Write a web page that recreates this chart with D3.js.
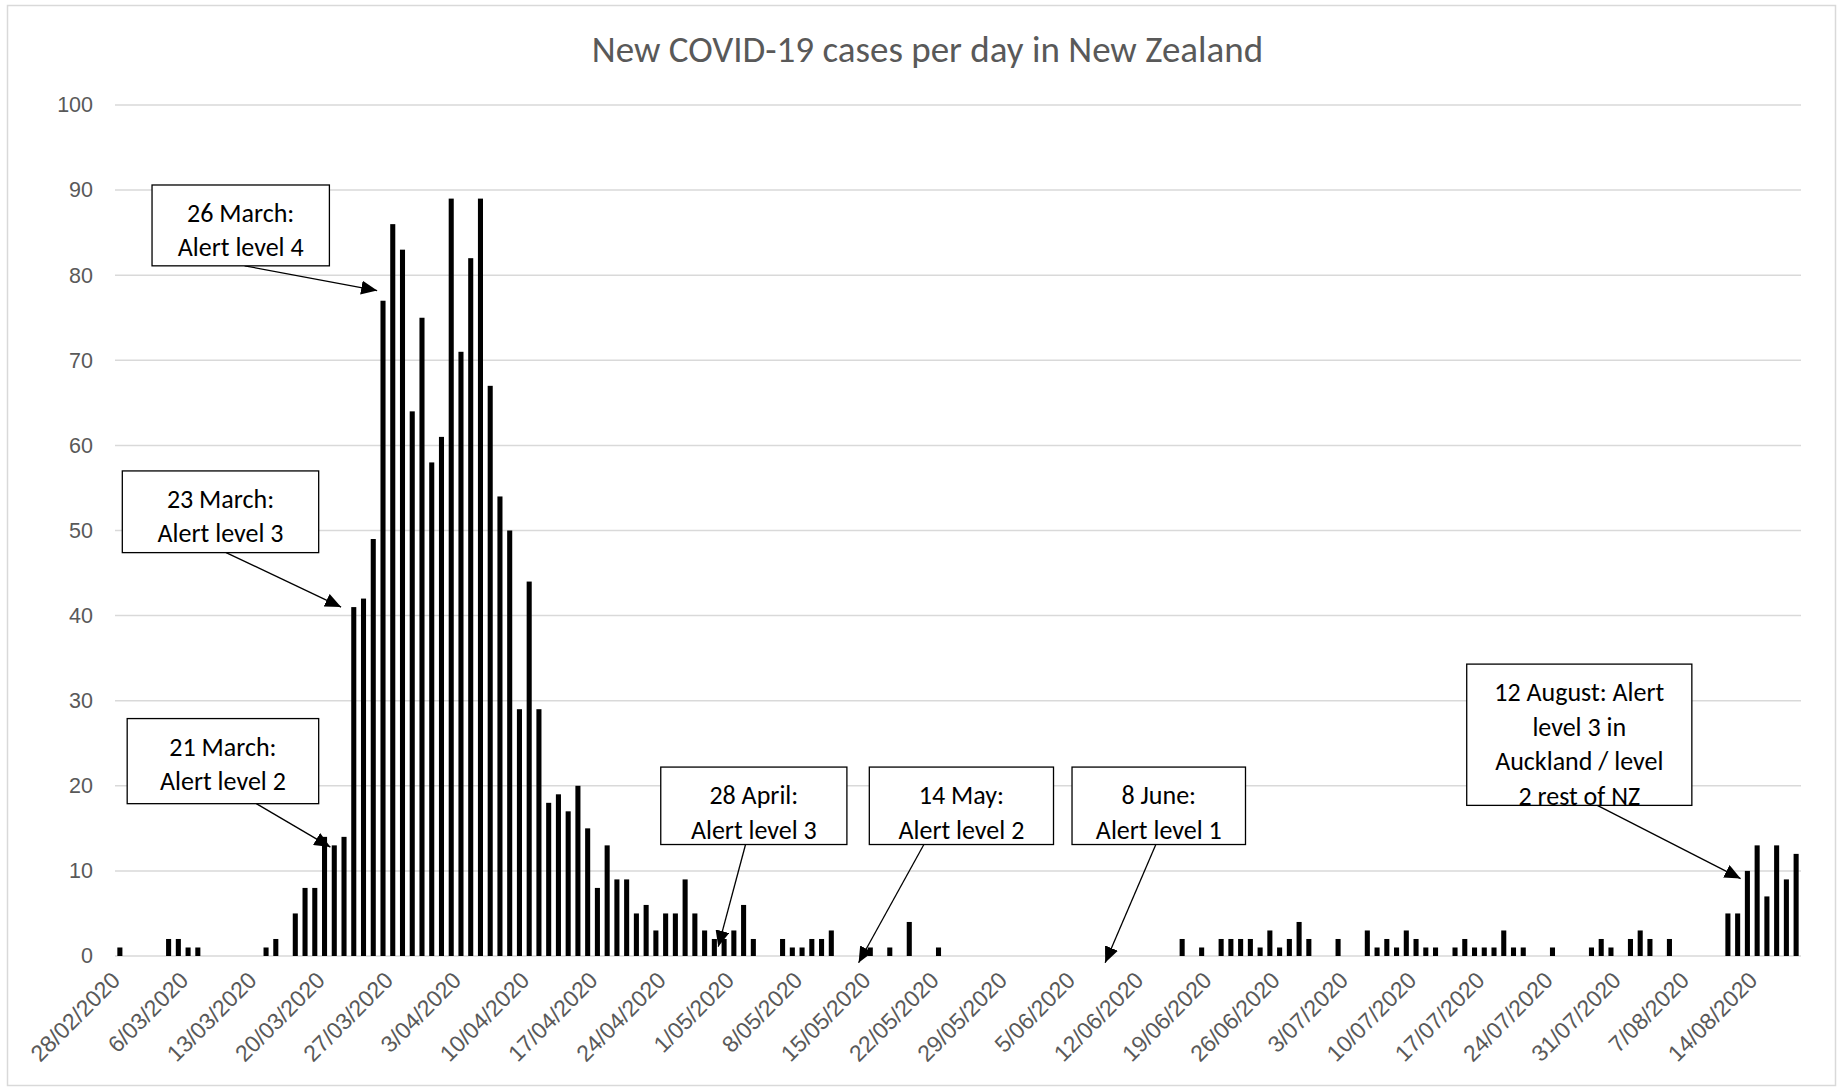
<!DOCTYPE html>
<html>
<head>
<meta charset="utf-8">
<script src="https://d3js.org/d3.v7.min.js"></script>
<style>
  body { margin: 0; background: #fff; }
  svg { display: block; font-family: Carlito, Calibri, Lato, sans-serif; }
</style>
</head>
<body>
<div id="chart"></div>
<script>
// daily new cases, 28/02/2020 .. 18/08/2020
const startDate = new Date(2020, 1, 28);
const endDate = new Date(2020, 7, 19);
const cases = [
  1, 0, 0, 0, 0, 2, 2, 1, 1, 0,
  0, 0, 0, 0, 0, 1, 2, 0, 5, 8,
  8, 14, 13, 14, 41, 42, 49, 77, 86, 83,
  64, 75, 58, 61, 89, 71, 82, 89, 67, 54,
  50, 29, 44, 29, 18, 19, 17, 20, 15, 8,
  13, 9, 9, 5, 6, 3, 5, 5, 9, 5,
  3, 2, 2, 3, 6, 2, 0, 0, 2, 1,
  1, 2, 2, 3, 0, 0, 0, 1, 0, 1,
  0, 4, 0, 0, 1, 0, 0, 0, 0, 0,
  0, 0, 0, 0, 0, 0, 0, 0, 0, 0,
  0, 0, 0, 0, 0, 0, 0, 0, 0, 2,
  0, 1, 0, 2, 2, 2, 2, 1, 3, 1,
  2, 4, 2, 0, 0, 2, 0, 0, 3, 1,
  2, 1, 3, 2, 1, 1, 0, 1, 2, 1,
  1, 1, 3, 1, 1, 0, 0, 1, 0, 0,
  0, 1, 2, 1, 0, 2, 3, 2, 0, 2,
  0, 0, 0, 0, 0, 5, 5, 10, 13, 7,
  13, 9, 12
];
const tickLabels = [
  "28/02/2020", "6/03/2020", "13/03/2020", "20/03/2020", "27/03/2020",
  "3/04/2020", "10/04/2020", "17/04/2020", "24/04/2020", "1/05/2020",
  "8/05/2020", "15/05/2020", "22/05/2020", "29/05/2020", "5/06/2020",
  "12/06/2020", "19/06/2020", "26/06/2020", "3/07/2020", "10/07/2020",
  "17/07/2020", "24/07/2020", "31/07/2020", "7/08/2020", "14/08/2020"
];
const yTicks = [0, 10, 20, 30, 40, 50, 60, 70, 80, 90, 100];
const title = "New COVID-19 cases per day in New Zealand";

// annotation texts and the day each one refers to
const notes = [
  { lines: ["26 March:", "Alert level 4"], day: "26/03/2020" },
  { lines: ["23 March:", "Alert level 3"], day: "23/03/2020" },
  { lines: ["21 March:", "Alert level 2"], day: "21/03/2020" },
  { lines: ["28 April:", "Alert level 3"], day: "28/04/2020" },
  { lines: ["14 May:", "Alert level 2"], day: "14/05/2020" },
  { lines: ["8 June:", "Alert level 1"], day: "8/06/2020" },
  { lines: ["12 August: Alert", "level 3 in", "Auckland / level", "2 rest of NZ"], day: "12/08/2020" }
];
// box placement in chart units: category index range, value range, arrow start/end
const noteLayout = [
  { i0: 3.3, i1: 21.5, v0: 90.6, v1: 81.1, si: 12.8, sv: 81.1, ti: 26.4, tv: 78.2 },
  { i0: 0.25, i1: 20.4, v0: 57.0, v1: 47.4, si: 10.9, sv: 47.4, ti: 22.7, tv: 41.0 },
  { i0: 0.75, i1: 20.4, v0: 27.9, v1: 17.9, si: 14.0, sv: 17.9, ti: 21.6, tv: 12.8 },
  { i0: 55.5, i1: 74.6, v0: 22.2, v1: 13.1, si: 64.2, sv: 13.1, ti: 61.4, tv: 1.1 },
  { i0: 76.9, i1: 95.8, v0: 22.2, v1: 13.1, si: 82.5, sv: 13.1, ti: 75.8, tv: -0.8 },
  { i0: 97.7, i1: 115.5, v0: 22.2, v1: 13.1, si: 106.3, sv: 13.1, ti: 101.1, tv: -0.8 },
  { i0: 138.2, i1: 161.3, v0: 34.3, v1: 17.7, si: 151.6, sv: 17.7, ti: 166.3, tv: 9.1 }
];

const width = 1843, height = 1091;
const margin = { top: 105, right: 42, bottom: 135, left: 115 };
const textGrey = "#595959";

const parseDay = d3.timeParse("%d/%m/%Y");
const dates = d3.timeDay.range(startDate, endDate);
const data = dates.map((d, i) => ({ date: d, value: cases[i] }));

const svg = d3.select("#chart")
    .append("svg")
    .attr("width", width)
    .attr("height", height);

svg.append("rect")
    .attr("x", 7.5).attr("y", 5.5)
    .attr("width", width - 15).attr("height", height - 11)
    .attr("fill", "#fff")
    .attr("stroke", "#d9d9d9")
    .attr("stroke-width", 1.5);

const x = d3.scaleBand()
    .domain(dates.map(d => +d))
    .range([margin.left, width - margin.right])
    .paddingInner(0.48)
    .paddingOuter(0.24);

const y = d3.scaleLinear()
    .domain([0, 100])
    .range([height - margin.bottom, margin.top]);

// fractional category index -> pixel, for the call-out boxes
const xi = i => x.range()[0] + x.step() * (x.paddingOuter() - x.paddingInner() / 2) + x.step() * (i + 0.5);

// gridlines
svg.append("g")
    .selectAll("line")
    .data(yTicks)
    .join("line")
    .attr("x1", margin.left)
    .attr("x2", width - margin.right)
    .attr("y1", d => y(d))
    .attr("y2", d => y(d))
    .attr("stroke", "#d9d9d9")
    .attr("stroke-width", 1.5);

// y axis labels
const yAxis = svg.append("g")
    .attr("transform", `translate(${margin.left - 22},0)`)
    .call(d3.axisLeft(y).tickValues(yTicks).tickSize(0).tickPadding(0));
yAxis.select(".domain").remove();
yAxis.selectAll("text")
    .attr("fill", textGrey)
    .style("font-size", "21.5px");

// bars
svg.append("g")
    .selectAll("rect")
    .data(data.filter(d => d.value > 0))
    .join("rect")
    .attr("x", d => x(+d.date))
    .attr("width", x.bandwidth())
    .attr("y", d => y(d.value))
    .attr("height", d => y(0) - y(d.value))
    .attr("fill", "#000");

// x axis labels, every 7th day
const tickDates = tickLabels.map(parseDay);
const fmt = d => `${d.getDate()}/${String(d.getMonth() + 1).padStart(2, "0")}/${d.getFullYear()}`;
const xAxis = svg.append("g")
    .attr("transform", `translate(0,${y(0)})`)
    .call(d3.axisBottom(x)
        .tickValues(tickDates.map(d => +d))
        .tickFormat(v => fmt(new Date(v)))
        .tickSize(0)
        .tickPadding(0));
xAxis.select(".domain").remove();
xAxis.selectAll("text")
    .attr("fill", textGrey)
    .style("font-size", "23px")
    .attr("text-anchor", "end")
    .attr("dy", "0.35em")
    .attr("transform", "translate(-4,20) rotate(-45)");

// title
svg.append("text")
    .attr("x", width / 2 + 6)
    .attr("y", 62)
    .attr("text-anchor", "middle")
    .attr("fill", textGrey)
    .style("font-size", "37px")
    .text(title);

// call-outs
svg.append("defs").append("marker")
    .attr("id", "head")
    .attr("markerUnits", "userSpaceOnUse")
    .attr("viewBox", "0 0 16 14")
    .attr("refX", 16).attr("refY", 7)
    .attr("markerWidth", 16).attr("markerHeight", 14)
    .attr("orient", "auto")
    .append("path")
    .attr("d", "M0,0L16,7L0,14Z")
    .attr("fill", "#000");

const noteG = svg.append("g").selectAll("g")
    .data(notes.map((n, k) => ({ ...n, ...noteLayout[k] })))
    .join("g");

noteG.append("line")
    .attr("x1", d => xi(d.si)).attr("y1", d => y(d.sv))
    .attr("x2", d => xi(d.ti)).attr("y2", d => y(d.tv))
    .attr("stroke", "#000")
    .attr("stroke-width", 1.3)
    .attr("marker-end", "url(#head)");

noteG.append("rect")
    .attr("x", d => xi(d.i0)).attr("y", d => y(d.v0))
    .attr("width", d => xi(d.i1) - xi(d.i0))
    .attr("height", d => y(d.v1) - y(d.v0))
    .attr("fill", "#fff")
    .attr("stroke", "#000")
    .attr("stroke-width", 1.3);

noteG.each(function (d) {
    const t = d3.select(this).append("text")
        .attr("text-anchor", "middle")
        .attr("fill", "#000")
        .style("font-size", "26px");
    d.lines.forEach((line, k) => {
        t.append("tspan")
            .attr("x", (xi(d.i0) + xi(d.i1)) / 2)
            .attr("y", y(d.v0) + 37 + k * 34.5)
            .text(line);
    });
});
</script>
</body>
</html>
